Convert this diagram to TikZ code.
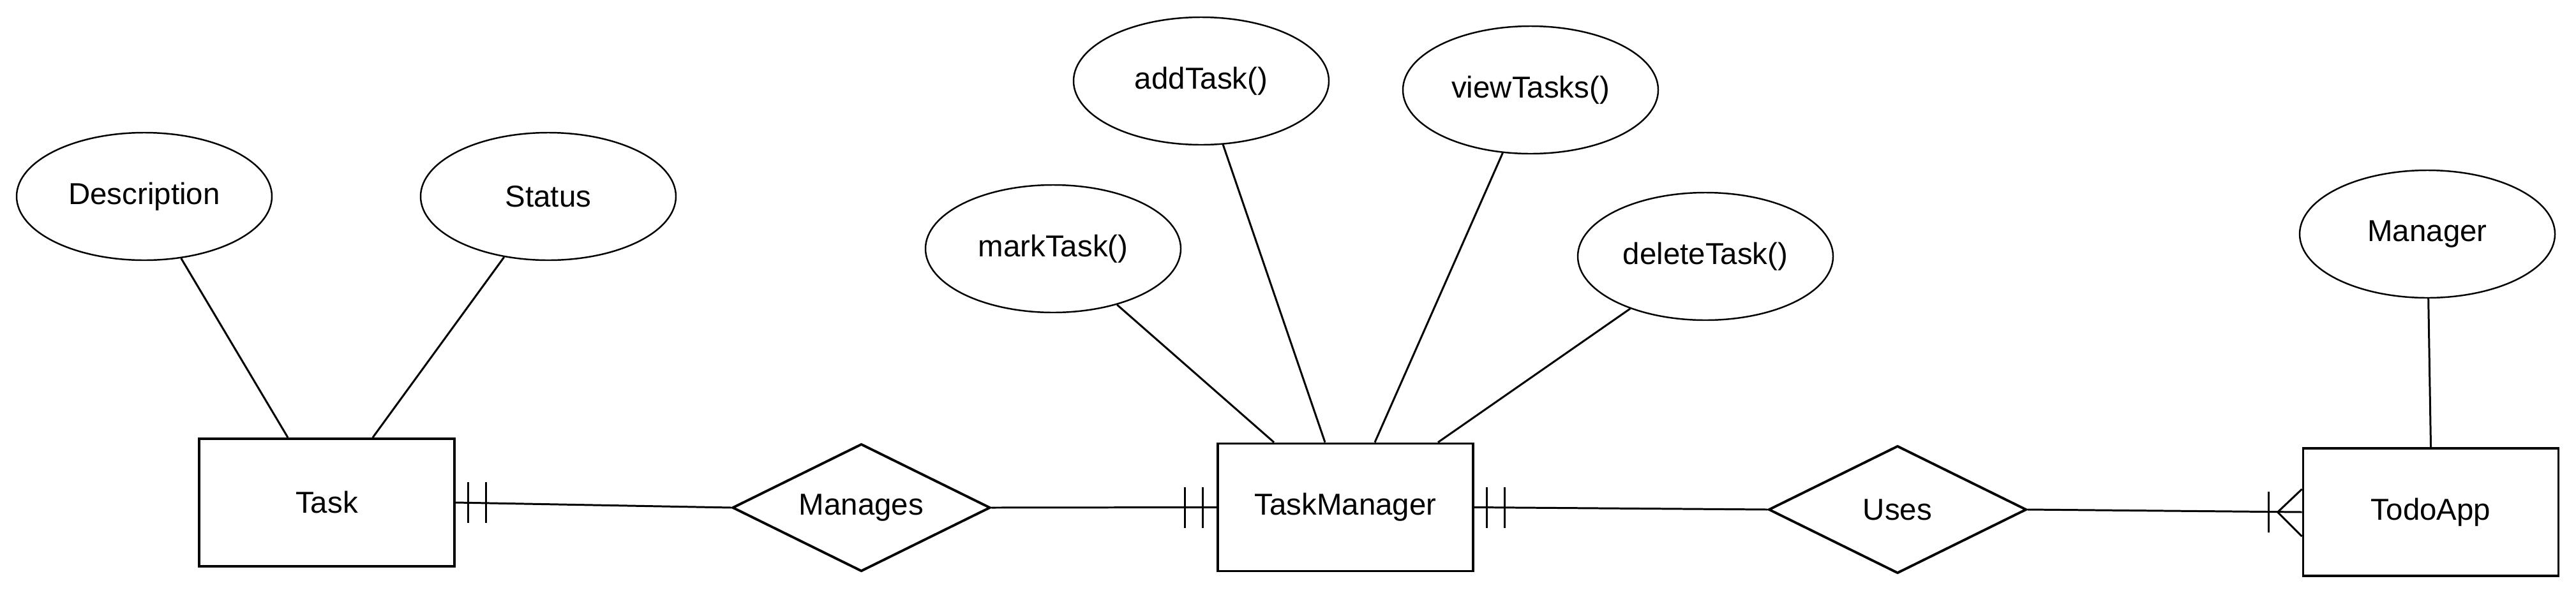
\documentclass[tikz,border=0pt]{standalone}
\usepackage{fontspec}
\setmainfont{Liberation Sans}
\usetikzlibrary{shapes.geometric}

\tikzset{
  entity/.style={draw, line width=1.1pt, minimum width=4cm, minimum height=2cm, inner sep=0pt},
  attr/.style={draw, ellipse, line width=0.7pt, minimum width=4cm, minimum height=2cm, inner sep=0pt},
  rel/.style={draw, diamond, aspect=2, line width=1.1pt, minimum width=4.04cm, minimum height=2cm, inner sep=0pt},
  conn/.style={line width=0.85pt},
}

\begin{document}
\begin{tikzpicture}[font=\fontsize{13.5}{16}\selectfont]
  \useasboundingbox (0,0) rectangle (40.36,-9.32);
  % entities
  \node[entity] (task) at (5.12,-7.88) {Task};
  \node[entity] (tm) at (21.08,-7.955) {TaskManager};
  \node[entity] (todo) at (38.085,-8.03) {TodoApp};
  % relationships
  \node[rel] (manages) at (13.495,-7.96) {Manages};
  \node[rel] (uses) at (29.73,-7.99) {Uses};
  % attributes
  \node[attr] (desc) at (2.26,-3.08) {Description};
  \node[attr] (status) at (8.59,-3.08) {Status};
  \node[attr] (mark) at (16.5,-3.9) {markTask()};
  \node[attr] (add) at (18.82,-1.27) {addTask()};
  \node[attr] (view) at (23.98,-1.41) {viewTasks()};
  \node[attr] (del) at (26.72,-4.02) {deleteTask()};
  \node[attr] (mgr) at (38.03,-3.67) {Manager};

  \draw[conn] (desc) -- ([xshift=-0.61cm]task.north);
  \draw[conn] (status) -- ([xshift=0.72cm]task.north);
  \draw[conn] (mark) -- ([xshift=-1.12cm]tm.north);
  \draw[conn] (add) -- ([xshift=-0.32cm]tm.north);
  \draw[conn] (view) -- ([xshift=0.46cm]tm.north);
  \draw[conn] (del) -- ([xshift=1.45cm]tm.north);
  \draw[conn] (mgr) -- (todo.north);

  \draw[conn] (task.east) -- (manages.west);
  \draw[conn] (manages.east) -- (tm.west);
  \draw[conn] (tm.east) -- (uses.west);
  \draw[conn] (uses.east) -- (todo.west);

  % cardinality marks
  \draw[conn] ([xshift=0.2cm,yshift=0.32cm]task.east) -- ++(0,-0.64);
  \draw[conn] ([xshift=0.48cm,yshift=0.32cm]task.east) -- ++(0,-0.64);
  \draw[conn] ([xshift=-0.22cm,yshift=0.32cm]tm.west) -- ++(0,-0.64);
  \draw[conn] ([xshift=-0.5cm,yshift=0.32cm]tm.west) -- ++(0,-0.64);
  \draw[conn] ([xshift=0.2cm,yshift=0.32cm]tm.east) -- ++(0,-0.64);
  \draw[conn] ([xshift=0.48cm,yshift=0.32cm]tm.east) -- ++(0,-0.64);
  \draw[conn] ([xshift=-0.52cm,yshift=0.32cm]todo.west) -- ++(0,-0.64);
  \draw[conn] ([yshift=0.36cm]todo.west) -- ([xshift=-0.38cm]todo.west) -- ([yshift=-0.38cm]todo.west);
\end{tikzpicture}
\end{document}
